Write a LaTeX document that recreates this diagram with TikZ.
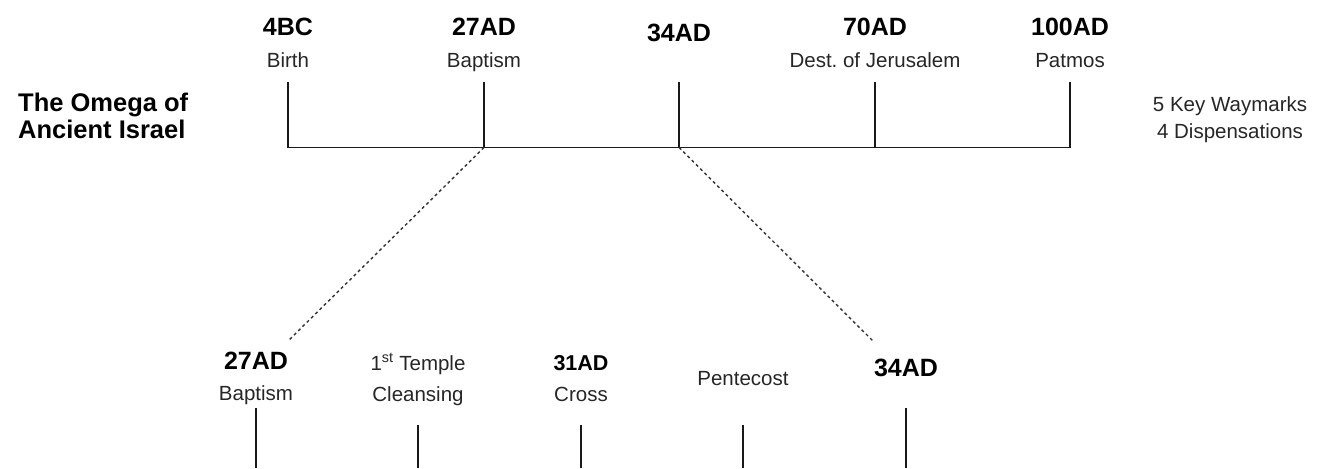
\documentclass[tikz,border=0pt]{standalone}
\usepackage{fontspec}
\setmainfont{Liberation Sans}
\frenchspacing
\begin{document}
\begin{tikzpicture}[x=1pt,y=-1pt,
  yr/.style={font=\fontsize{25}{30}\selectfont\bfseries, anchor=base, inner sep=0pt, text=black},
  yrs/.style={font=\fontsize{21.5}{26}\selectfont\bfseries, anchor=base, inner sep=0pt, text=black},
  lbl/.style={font=\fontsize{20.5}{25}\selectfont, anchor=base, inner sep=0pt, text=black!85},
  ttl/.style={font=\fontsize{25.5}{30}\selectfont\bfseries, anchor=base west, inner sep=0pt, text=black},
  tickline/.style={line width=1.3pt, black!90},
  dsh/.style={line width=1.4pt, black!80, dash pattern=on 3pt off 3pt}]
\useasboundingbox (0,0) rectangle (1321,468);

% title
\node[ttl] (title1) at (18,112) {The Omega of};
\node[ttl] (title2) at (18,138) {Ancient Israel};

% right note
\node[lbl] (note1) at (1230,111) {5 Key Waymarks};
\node[lbl] (note2) at (1230,138) {4 Dispensations};

% top timeline labels
\node[yr] (y1) at (288,36) {4BC};
\node[lbl] (l1) at (288,67.5) {Birth};
\node[yr] (y2) at (484,36) {27AD};
\node[lbl] (l2) at (484,67.5) {Baptism};
\node[yr] (y3) at (679,42) {34AD};
\node[yr] (y4) at (875,36) {70AD};
\node[lbl] (l4) at (875,67.5) {Dest.\ of Jerusalem};
\node[yr] (y5) at (1070,36) {100AD};
\node[lbl] (l5) at (1070,67.5) {Patmos};

% top timeline
\coordinate (t1) at (288,82);   \coordinate (b1) at (288,147.5);
\coordinate (t2) at (484,82);   \coordinate (b2) at (484,147.5);
\coordinate (t3) at (679,82);   \coordinate (b3) at (679,147.5);
\coordinate (t4) at (875,82);   \coordinate (b4) at (875,147.5);
\coordinate (t5) at (1070,82);  \coordinate (b5) at (1070,147.5);
\draw[tickline] (b1) -- (b5);
\foreach \i in {1,...,5} \draw[tickline] (t\i) -- (b\i);

% dotted connectors
\coordinate (d1) at (289,340);
\coordinate (d2) at (874,342);
\draw[dsh] (b2) -- (d1);
\draw[dsh] (b3) -- (d2);

% bottom labels
\node[yr] (by1) at (256,369) {27AD};
\node[lbl] (bl1) at (256,400) {Baptism};
\node[lbl] (by2) at (418,370) {1\textsuperscript{st} Temple};
\node[lbl] (bl2) at (418,401) {Cleansing};
\node[yrs] (by3) at (581,370) {31AD};
\node[lbl] (bl3) at (581,401) {Cross};
\node[lbl] (bl4) at (743,385) {Pentecost};
\node[yr] (by5) at (906,376) {34AD};

% bottom ticks
\coordinate (u1) at (256,408); \coordinate (v1) at (256,468);
\coordinate (u2) at (418,425); \coordinate (v2) at (418,468);
\coordinate (u3) at (581,425); \coordinate (v3) at (581,468);
\coordinate (u4) at (743,425); \coordinate (v4) at (743,468);
\coordinate (u5) at (906,408); \coordinate (v5) at (906,468);
\foreach \i in {1,...,5} \draw[tickline] (u\i) -- (v\i);
\end{tikzpicture}
\end{document}
